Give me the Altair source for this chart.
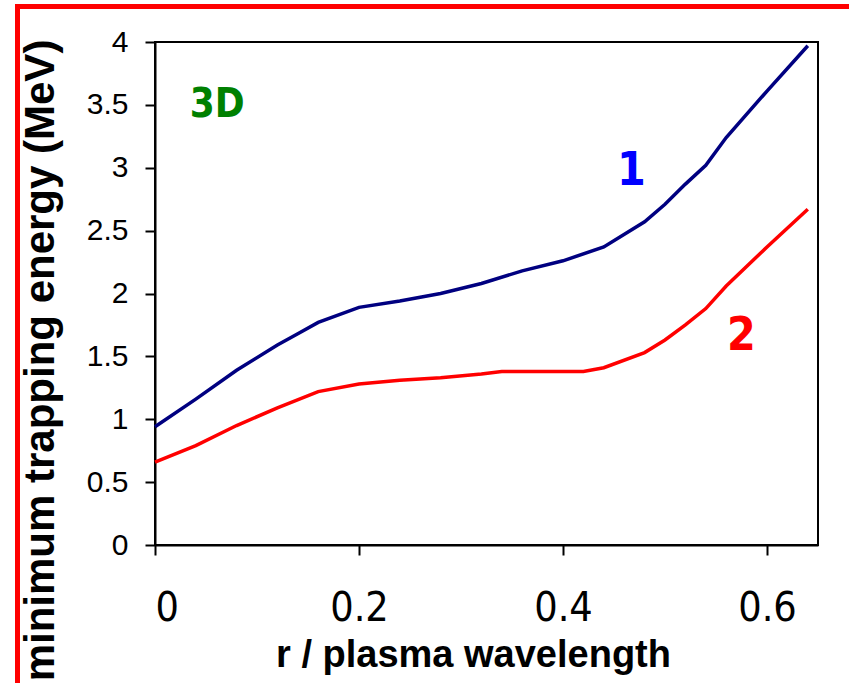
import altair as alt
import pandas as pd

# curve 1 (navy)
blue_x = [0, 0.04, 0.08, 0.12, 0.14, 0.16, 0.2, 0.24, 0.28, 0.32, 0.36, 0.4, 0.44, 0.48, 0.5, 0.52, 0.54, 0.56, 0.6, 0.64]
blue_y = [0.94, 1.16, 1.39, 1.59, 1.68, 1.77, 1.89, 1.94, 2.00, 2.08, 2.18, 2.26, 2.37, 2.57, 2.71, 2.87, 3.02, 3.24, 3.61, 3.97]
# curve 2 (red)
red_x = [0, 0.04, 0.08, 0.12, 0.16, 0.2, 0.24, 0.28, 0.32, 0.34, 0.42, 0.44, 0.48, 0.5, 0.52, 0.54, 0.56, 0.6, 0.64]
red_y = [0.66, 0.79, 0.95, 1.09, 1.22, 1.28, 1.31, 1.33, 1.36, 1.38, 1.38, 1.41, 1.53, 1.63, 1.75, 1.88, 2.06, 2.37, 2.67]

x_ticks = [0, 0.2, 0.4, 0.6]
y_ticks = [0, 0.5, 1, 1.5, 2, 2.5, 3, 3.5, 4]

# annotations
label_text = ["3D", "1", "2"]
label_x = [0.061, 0.467, 0.575]
label_y = [3.40, 2.86, 1.55]
label_color = ["#008000", "#0000FF", "#FF0000"]
label_size = [40, 46, 46]

lines_df = pd.concat([
    pd.DataFrame({"x": blue_x, "y": blue_y, "s": "1"}),
    pd.DataFrame({"x": red_x, "y": red_y, "s": "2"}),
])
labels_df = pd.DataFrame({"t": label_text, "x": label_x, "y": label_y,
                          "c": label_color, "fs": label_size})

NARROW = "Liberation Sans Narrow, Arial Narrow, DejaVu Sans Condensed, sans-serif"
REG = "Liberation Sans, Arial, sans-serif"

xenc = alt.X("x:Q", scale=alt.Scale(domain=[0, 0.65], nice=False, zero=False),
             axis=alt.Axis(values=x_ticks, format="~g", grid=False,
                           title="r / plasma wavelength",
                           labelFont=NARROW, labelFontSize=41, labelColor="black",
                           labelBaseline="alphabetic", labelPadding=65,
                           tickSize=10, tickColor="black", tickWidth=2,
                           domainColor="black", domainWidth=2,
                           titleFont=REG, titleFontSize=38, titleFontWeight="bold",
                           titleColor="black", titleBaseline="alphabetic",
                           titleAnchor="start", titleAlign="center",
                           titleX=318, titleY=121))
yenc = alt.Y("y:Q", scale=alt.Scale(domain=[0, 4], nice=False),
             axis=alt.Axis(values=y_ticks, format="~g", grid=False,
                           title="minimum trapping energy (MeV)",
                           labelFont=REG, labelFontSize=30, labelColor="black",
                           labelPadding=17,
                           tickSize=10, tickColor="black", tickWidth=2,
                           domainColor="black", domainWidth=2,
                           titleFont=REG, titleFontSize=42, titleFontWeight="bold",
                           titleColor="black", titleBaseline="alphabetic",
                           titleAngle=270, titleAlign="center",
                           titleX=-102, titleY=318))

lines = alt.Chart(lines_df).mark_line(strokeWidth=3.5, clip=False).encode(
    x=xenc, y=yenc,
    color=alt.Color("s:N", scale=alt.Scale(domain=["1", "2"], range=["#000080", "#FF0000"]),
                    legend=None),
)

texts = alt.Chart(labels_df).mark_text(font=NARROW, fontWeight="bold",
                                        baseline="alphabetic", align="center").encode(
    x="x:Q", y="y:Q", text="t:N",
    color=alt.Color("c:N", scale=None),
    size=alt.Size("fs:Q", scale=None),
)

border_src = pd.DataFrame({"k": [0]})
top_border = alt.Chart(border_src).mark_rule(color="#FF0000", strokeWidth=5).encode(
    x=alt.value(-140), x2=alt.value(700), y=alt.value(-35.5))
left_border = alt.Chart(border_src).mark_rule(color="#FF0000", strokeWidth=5).encode(
    x=alt.value(-137.5), y=alt.value(-38), y2=alt.value(650))

chart = alt.layer(lines, texts, top_border, left_border).properties(
    width=663, height=503,
    autosize=alt.AutoSizeParams(type="none"),
    padding={"left": 155, "top": 42, "right": 31, "bottom": 138},
    background="white",
).configure_view(stroke="black", strokeWidth=2)

chart.save("out.html", embed_options={"renderer": "svg", "actions": False})
